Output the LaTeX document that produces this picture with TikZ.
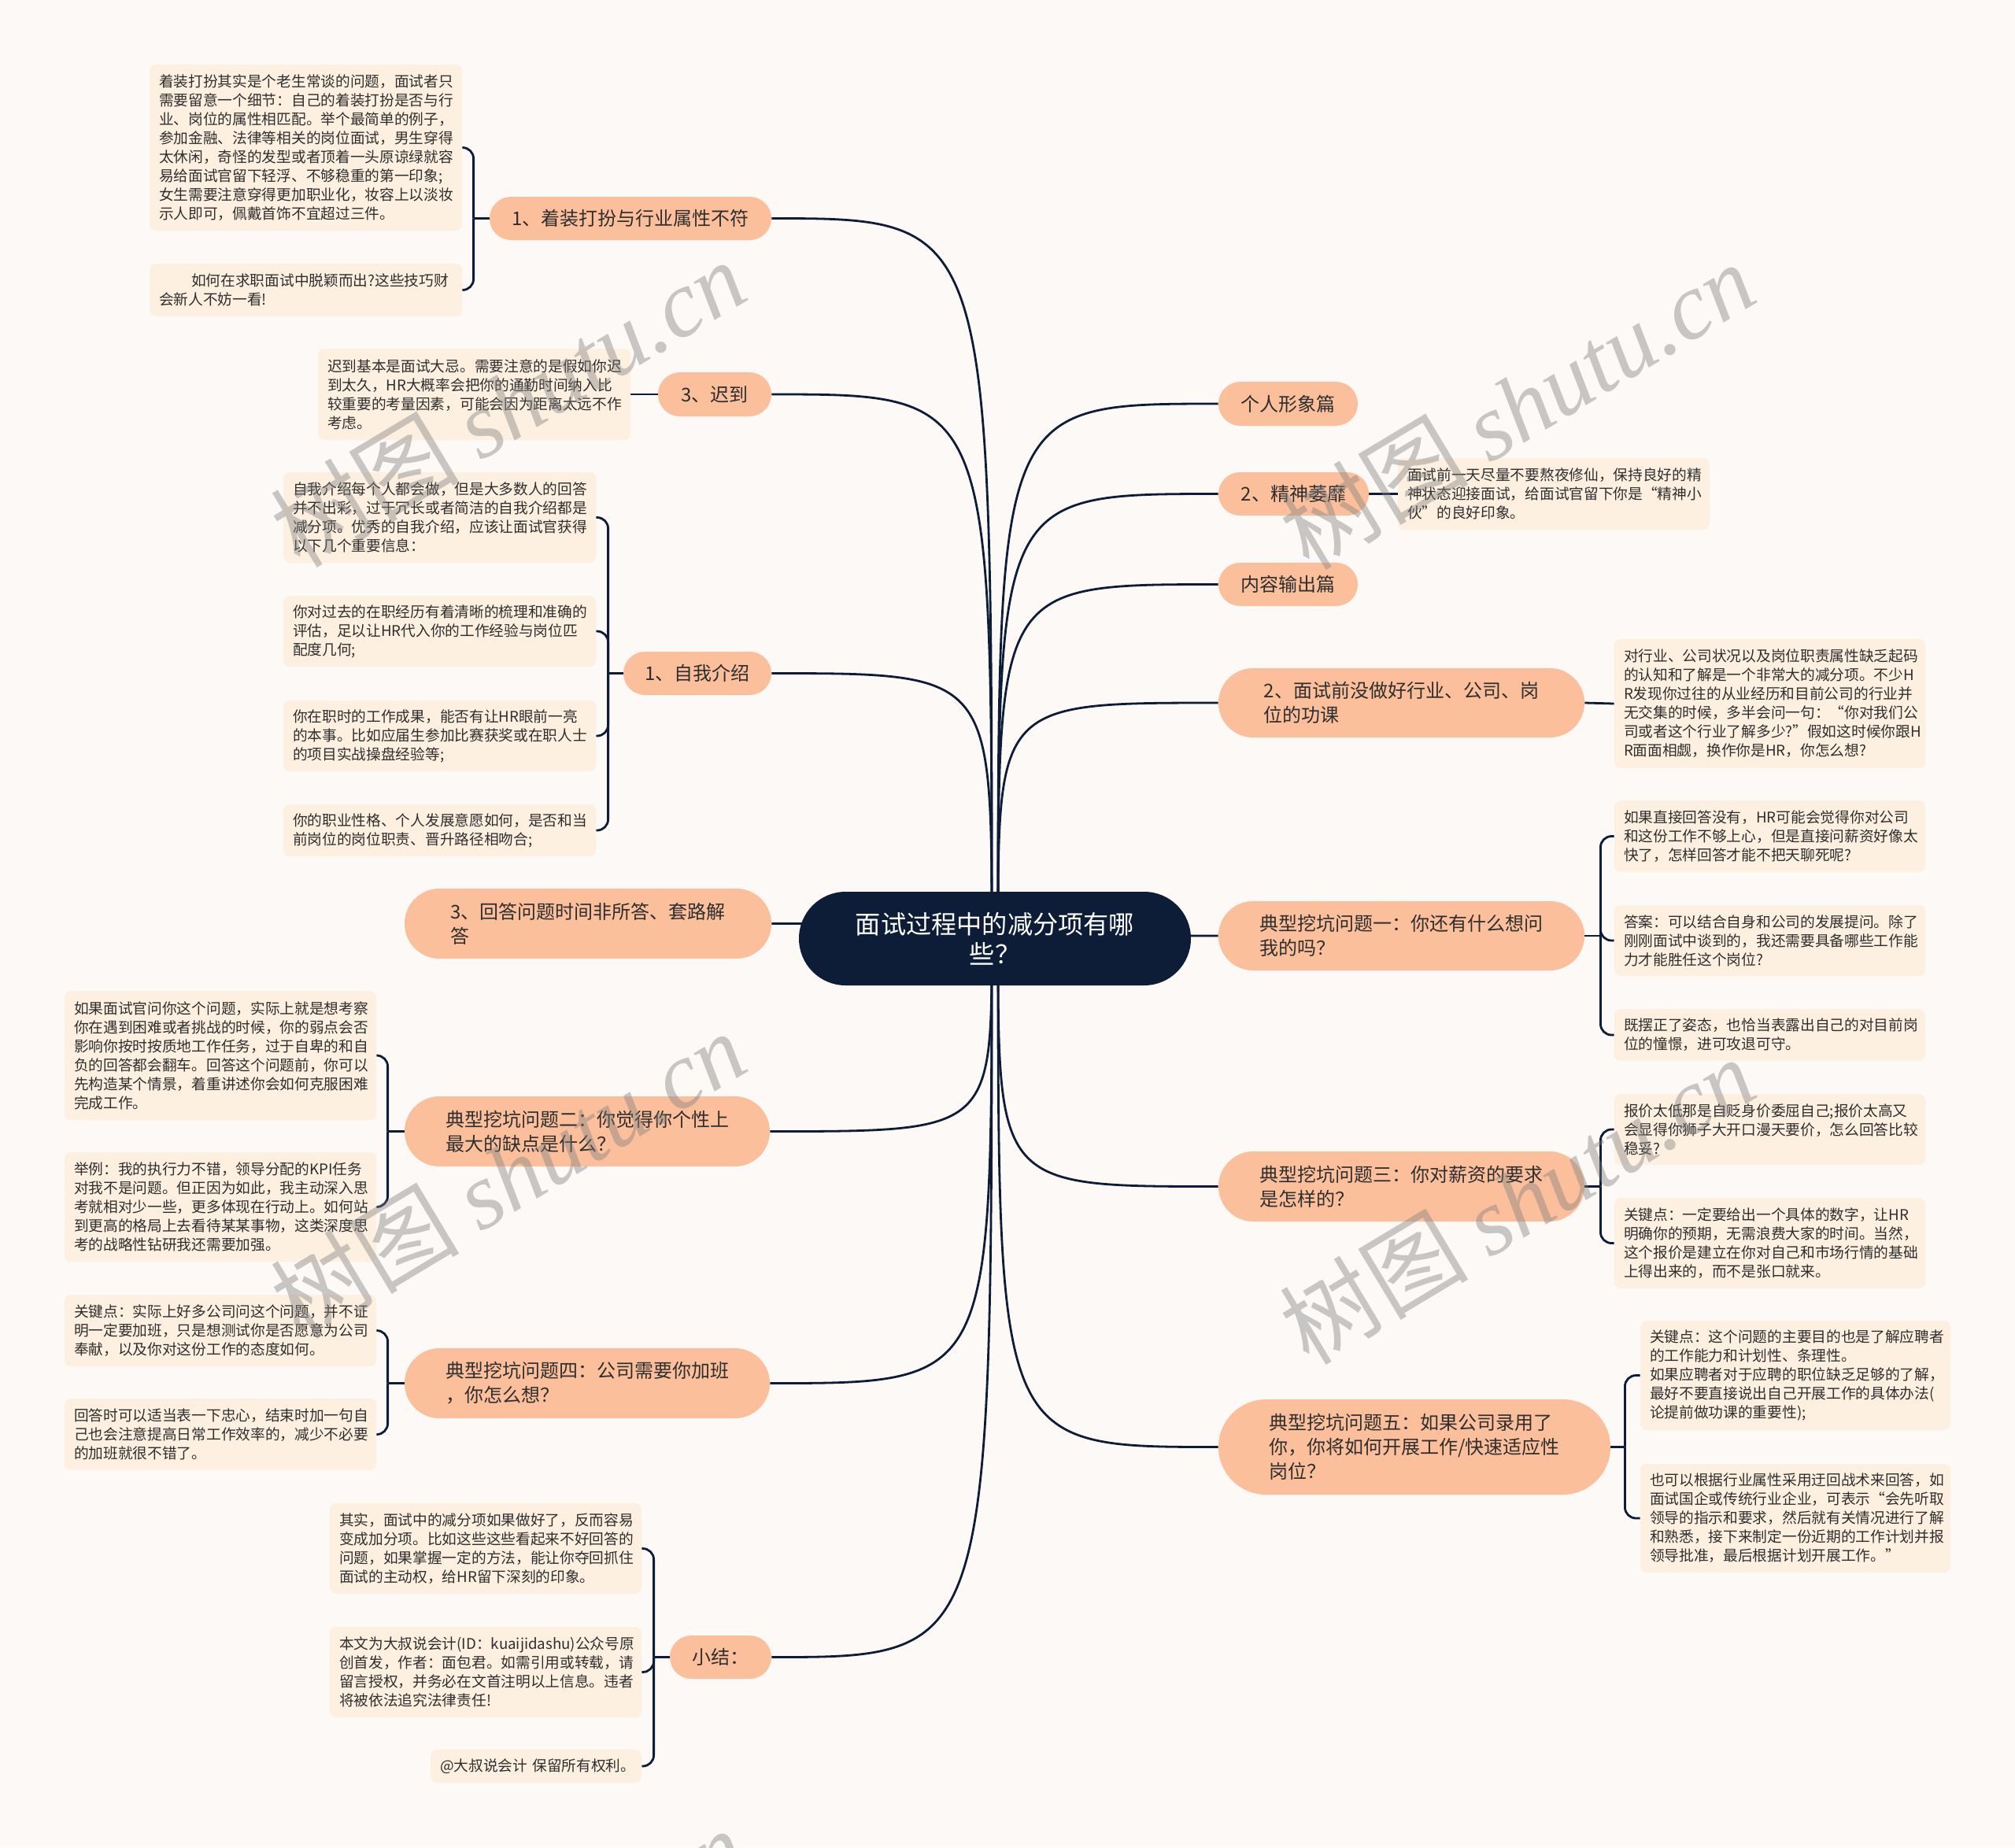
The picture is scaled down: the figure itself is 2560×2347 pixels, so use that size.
\documentclass[tikz,border=0pt]{standalone}
\usepackage{fontspec}
\setmainfont{Noto Sans CJK SC}
\newfontfamily\wmlatin{Liberation Serif}
\usetikzlibrary{backgrounds}
\definecolor{bgc}{HTML}{FCF9F7}
\definecolor{leafc}{HTML}{FEF0E1}
\definecolor{branchc}{HTML}{FBBF9C}
\definecolor{centerc}{HTML}{0E1D37}
\definecolor{linec}{HTML}{0E1D37}
\definecolor{txtc}{HTML}{2E2E2E}
\tikzset{
 leaf/.style={fill=leafc, rounded corners=4pt, inner xsep=6pt, inner ysep=0pt, align=left, text=txtc, font=\fontsize{9.35pt}{12pt}\selectfont},
 branch/.style={fill=branchc, inner sep=0pt, align=left, text=txtc, font=\fontsize{12pt}{15.5pt}\selectfont},
 root/.style={fill=centerc, inner sep=0pt, align=center, text=white, font=\fontsize{16.1pt}{19pt}\selectfont},
 conn/.style={draw=linec, line width=1.4pt},
 brace/.style={conn, rounded corners=7pt},
 wm/.style={text=gray, opacity=0.42, rotate=31, font=\fontsize{60pt}{60pt}\selectfont},
}
\newcommand\leafnode[6]{%
  \pgfmathsetmacro\bxw{(#4-#2)*0.5}%
  \pgfmathsetmacro\bxh{(#5-#3)*0.5}%
  \pgfmathsetmacro\bxx{(#2+#4)/2}%
  \pgfmathsetmacro\bxy{(#3+#5)/2}%
  \pgfmathsetmacro\bxt{\bxw-12}%
  \node[leaf, minimum width=\bxw pt, minimum height=\bxh pt, text width=\bxt pt] (#1) at (\bxx,\bxy) {#6};%
}
\newcommand\pillnode[7]{%
  \pgfmathsetmacro\bxw{(#5-#3)*0.5}%
  \pgfmathsetmacro\bxh{(#6-#4)*0.5}%
  \pgfmathsetmacro\bxx{(#3+#5)/2}%
  \pgfmathsetmacro\bxy{(#4+#6)/2}%
  \pgfmathsetmacro\bxr{\bxh/2-0.05}%
  \node[#1, minimum width=\bxw pt, minimum height=\bxh pt, rounded corners=\bxr pt] (#2) at (\bxx,\bxy) {#7};%
}
\begin{document}
\begin{tikzpicture}[x=0.5pt,y=-0.5pt]
\useasboundingbox (0,0) rectangle (2560,2347);

% root
\pillnode{root}{C}{1015}{1133}{1513}{1252}{面试过程中的减分项有哪\\些？}

% left branches
\pillnode{branch}{L1}{622}{250}{980}{305}{1、着装打扮与行业属性不符}
\pillnode{branch}{L2}{836}{473}{980}{529}{3、迟到}
\pillnode{branch}{L3}{792}{828}{980}{883}{1、自我介绍}
\pillnode{branch}{L4}{514}{1129}{980}{1218}{3、回答问题时间非所答、套路解\\答}
\pillnode{branch}{L5}{514}{1393}{978}{1482}{典型挖坑问题二：你觉得你个性上\\最大的缺点是什么？}
\pillnode{branch}{L6}{514}{1713}{978}{1802}{典型挖坑问题四：公司需要你加班\\，你怎么想？}
\pillnode{branch}{L7}{851}{2078}{980}{2133}{小结：}

% right branches
\pillnode{branch}{R1}{1548}{485}{1725}{541}{个人形象篇}
\pillnode{branch}{R2}{1548}{600}{1739}{655}{2、精神萎靡}
\pillnode{branch}{R3}{1548}{715}{1725}{770}{内容输出篇}
\pillnode{branch}{R4}{1548}{849}{2013}{937}{2、面试前没做好行业、公司、岗\\位的功课}
\pillnode{branch}{R5}{1548}{1145}{2013}{1233}{典型挖坑问题一：你还有什么想问\\我的吗？}
\pillnode{branch}{R6}{1548}{1463}{2013}{1552}{典型挖坑问题三：你对薪资的要求\\是怎样的？}
\pillnode{branch}{R7}{1548}{1778}{2046}{1899}{典型挖坑问题五：如果公司录用了\\你，你将如何开展工作/快速适应性\\岗位？}

% left leaves
\leafnode{L1a}{190}{82}{587}{293}{着装打扮其实是个老生常谈的问题，面试者只\\需要留意一个细节：自己的着装打扮是否与行\\业、岗位的属性相匹配。举个最简单的例子，\\参加金融、法律等相关的岗位面试，男生穿得\\太休闲，奇怪的发型或者顶着一头原谅绿就容\\易给面试官留下轻浮、不够稳重的第一印象;\\女生需要注意穿得更加职业化，妆容上以淡妆\\示人即可，佩戴首饰不宜超过三件。}
\leafnode{L1b}{190}{335}{587}{402}{\hspace*{2.2em}如何在求职面试中脱颖而出?这些技巧财\\会新人不妨一看!}
\leafnode{L2a}{404}{443}{801}{559}{迟到基本是面试大忌。需要注意的是假如你迟\\到太久，HR大概率会把你的通勤时间纳入比\\较重要的考量因素，可能会因为距离太远不作\\考虑。}
\leafnode{L3a}{360}{600}{757}{715}{自我介绍每个人都会做，但是大多数人的回答\\并不出彩，过于冗长或者简洁的自我介绍都是\\减分项。优秀的自我介绍，应该让面试官获得\\以下几个重要信息：}
\leafnode{L3b}{360}{757}{757}{847}{你对过去的在职经历有着清晰的梳理和准确的\\评估，足以让HR代入你的工作经验与岗位匹\\配度几何;}
\leafnode{L3c}{360}{890}{757}{980}{你在职时的工作成果，能否有让HR眼前一亮\\的本事。比如应届生参加比赛获奖或在职人士\\的项目实战操盘经验等;}
\leafnode{L3d}{360}{1022}{757}{1088}{你的职业性格、个人发展意愿如何，是否和当\\前岗位的岗位职责、晋升路径相吻合;}
\leafnode{L5a}{82}{1259}{478}{1423}{如果面试官问你这个问题，实际上就是想考察\\你在遇到困难或者挑战的时候，你的弱点会否\\影响你按时按质地工作任务，过于自卑的和自\\负的回答都会翻车。回答这个问题前，你可以\\先构造某个情景，着重讲述你会如何克服困难\\完成工作。}
\leafnode{L5b}{82}{1464}{478}{1603}{举例：我的执行力不错，领导分配的KPI任务\\对我不是问题。但正因为如此，我主动深入思\\考就相对少一些，更多体现在行动上。如何站\\到更高的格局上去看待某某事物，这类深度思\\考的战略性钻研我还需要加强。}
\leafnode{L6a}{82}{1645}{478}{1736}{关键点：实际上好多公司问这个问题，并不证\\明一定要加班，只是想测试你是否愿意为公司\\奉献，以及你对这份工作的态度如何。}
\leafnode{L6b}{82}{1777}{478}{1868}{回答时可以适当表一下忠心，结束时加一句自\\己也会注意提高日常工作效率的，减少不必要\\的加班就很不错了。}
\leafnode{L7a}{419}{1910}{815}{2025}{其实，面试中的减分项如果做好了，反而容易\\变成加分项。比如这些这些看起来不好回答的\\问题，如果掌握一定的方法，能让你夺回抓住\\面试的主动权，给HR留下深刻的印象。}
\leafnode{L7b}{419}{2067}{815}{2182}{本文为大叔说会计(ID：kuaijidashu)公众号原\\创首发，作者：面包君。如需引用或转载，请\\留言授权，并务必在文首注明以上信息。违者\\将被依法追究法律责任!}
\leafnode{L7c}{547}{2223}{815}{2265}{\mbox{@大叔说会计 保留所有权利。}}

% right leaves
\leafnode{R2a}{1776}{582}{2172}{673}{面试前一天尽量不要熬夜修仙，保持良好的精\\神状态迎接面试，给面试官留下你是“精神小\\伙”的良好印象。}
\leafnode{R4a}{2051}{812}{2446}{976}{对行业、公司状况以及岗位职责属性缺乏起码\\的认知和了解是一个非常大的减分项。不少H\\R发现你过往的从业经历和目前公司的行业并\\无交集的时候，多半会问一句：“你对我们公\\司或者这个行业了解多少?”假如这时候你跟H\\R面面相觑，换作你是HR，你怎么想?}
\leafnode{R5a}{2051}{1017}{2446}{1108}{如果直接回答没有，HR可能会觉得你对公司\\和这份工作不够上心，但是直接问薪资好像太\\快了，怎样回答才能不把天聊死呢?}
\leafnode{R5b}{2051}{1150}{2446}{1240}{答案：可以结合自身和公司的发展提问。除了\\刚刚面试中谈到的，我还需要具备哪些工作能\\力才能胜任这个岗位?}
\leafnode{R5c}{2051}{1282}{2446}{1348}{既摆正了姿态，也恰当表露出自己的对目前岗\\位的憧憬，进可攻退可守。}
\leafnode{R6a}{2051}{1390}{2446}{1480}{报价太低那是自贬身价委屈自己;报价太高又\\会显得你狮子大开口漫天要价，怎么回答比较\\稳妥?}
\leafnode{R6b}{2051}{1522}{2446}{1637}{关键点：一定要给出一个具体的数字，让HR\\明确你的预期，无需浪费大家的时间。当然，\\这个报价是建立在你对自己和市场行情的基础\\上得出来的，而不是张口就来。}
\leafnode{R7a}{2084}{1678}{2478}{1817}{关键点：这个问题的主要目的也是了解应聘者\\的工作能力和计划性、条理性。\\如果应聘者对于应聘的职位缺乏足够的了解，\\最好不要直接说出自己开展工作的具体办法(\\论提前做功课的重要性);}
\leafnode{R7b}{2084}{1860}{2478}{1998}{也可以根据行业属性采用迂回战术来回答，如\\面试国企或传统行业企业，可表示“会先听取\\领导的指示和要求，然后就有关情况进行了解\\和熟悉，接下来制定一份近期的工作计划并报\\领导批准，最后根据计划开展工作。”}

\begin{pgfonlayer}{background}
\fill[bgc] (0,0) rectangle (2560,2347);
\coordinate (cl) at (1260,1192);
\coordinate (cr) at (1268,1192);
\foreach \t in {L1,L2,L3,L4,L5,L6,L7}
  \draw[conn] (cl) .. controls (cl |- \t.east) .. (\t.east);
\foreach \t in {R1,R2,R3,R4,R5,R6,R7}
  \draw[conn] (cr) .. controls (cr |- \t.west) .. (\t.west);
% single leaves
\draw[conn] (L2.west) -- (L2a.east);
\draw[conn] (R2.east) -- (R2a.west);
\draw[conn] (R4.east) -- (R4a.west);
% braces left
\draw[conn] (L1.west) -- ++(-20,0) coordinate (bL1);
\foreach \l in {L1a,L1b} \draw[brace] (bL1) |- (\l.east);
\draw[conn] (L3.west) -- ++(-19,0) coordinate (bL3);
\foreach \l in {L3a,L3b,L3c,L3d} \draw[brace] (bL3) |- (\l.east);
\draw[conn] (L5.west) -- ++(-21,0) coordinate (bL5);
\foreach \l in {L5a,L5b} \draw[brace] (bL5) |- (\l.east);
\draw[conn] (L6.west) -- ++(-21,0) coordinate (bL6);
\foreach \l in {L6a,L6b} \draw[brace] (bL6) |- (\l.east);
\draw[conn] (L7.west) -- ++(-20,0) coordinate (bL7);
\foreach \l in {L7a,L7b,L7c} \draw[brace] (bL7) |- (\l.east);
% braces right
\draw[conn] (R5.east) -- ++(20,0) coordinate (bR5);
\foreach \l in {R5a,R5b,R5c} \draw[brace] (bR5) |- (\l.west);
\draw[conn] (R6.east) -- ++(20,0) coordinate (bR6);
\foreach \l in {R6a,R6b} \draw[brace] (bR6) |- (\l.west);
\draw[conn] (R7.east) -- ++(18,0) coordinate (bR7);
\foreach \l in {R7a,R7b} \draw[brace] (bR7) |- (\l.west);
\end{pgfonlayer}

% watermarks
\begin{scope}
\clip (0,0) rectangle (2560,2347);
\node[wm] (w1) at (645,512) {树图 {\wmlatin\itshape shutu.cn}};
\node[wm] (w2) at (1927,515) {树图 {\wmlatin\itshape shutu.cn}};
\node[wm] (w3) at (645,1492) {树图 {\wmlatin\itshape shutu.cn}};
\node[wm] (w4) at (1927,1525) {树图 {\wmlatin\itshape shutu.cn}};
\node[wm] (w5) at (645,2505) {树图 {\wmlatin\itshape shutu.cn}};
\node[wm] (w6) at (1927,2530) {树图 {\wmlatin\itshape shutu.cn}};
\end{scope}
\end{tikzpicture}
\end{document}
